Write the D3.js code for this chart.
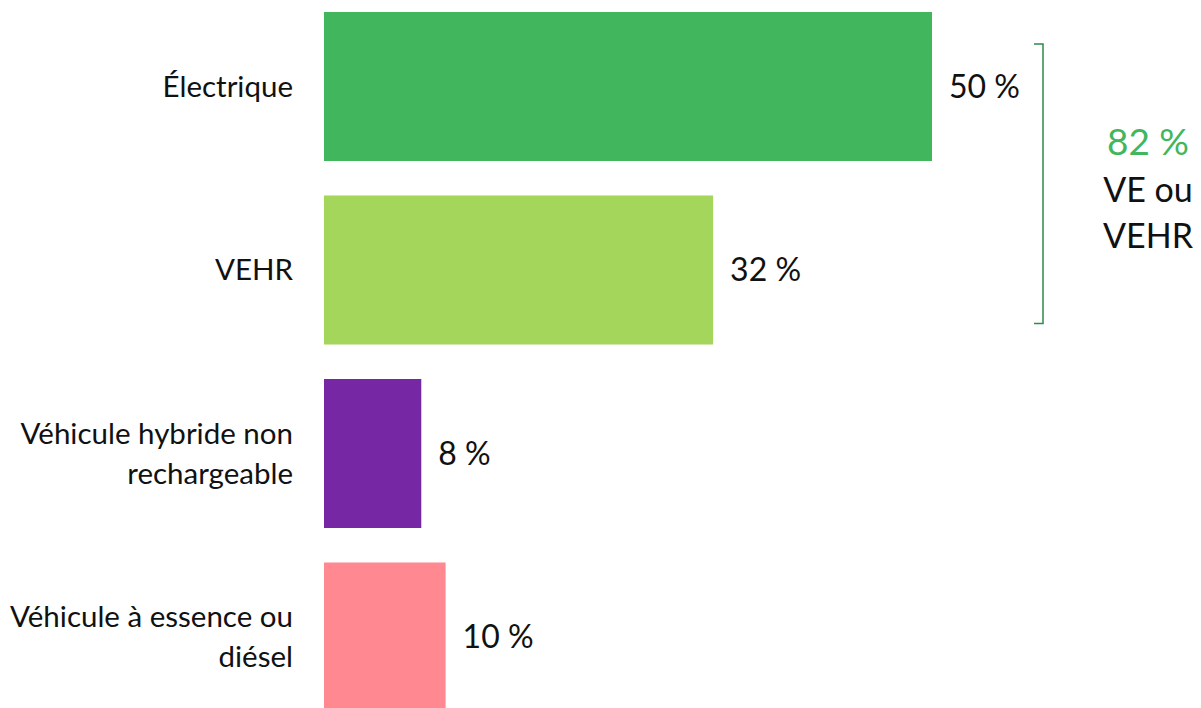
<!DOCTYPE html>
<html><head><meta charset="utf-8">
<script src="https://cdn.jsdelivr.net/npm/d3@7"></script>
<style>body{margin:0;background:#fff;} text{font-family:"Lato","Open Sans",sans-serif;}</style>
</head><body>
<svg id="c" width="1201" height="708"></svg>
<script>
const categories = [["Électrique"], ["VEHR"], ["Véhicule hybride non", "rechargeable"], ["Véhicule à essence ou", "diésel"]];
const keys = ["elec", "vehr", "hyb", "ess"];
const values = [50, 32, 8, 10];
const colors = ["#42b65c", "#a3d65b", "#7627a4", "#ff8891"];
const groupTotal = 82;
const groupLabel = ["VE ou", "VEHR"];

const svg = d3.select("#c");
const x = d3.scaleLinear().domain([0, 50]).range([324, 932]);
const y = d3.scaleBand().domain(keys).range([12, 12 + 3 * 183.5 + 149]).paddingInner(34.5 / 183.5).paddingOuter(0);

svg.selectAll("rect.bar").data(values).join("rect")
  .attr("x", x(0)).attr("y", (d, i) => y(keys[i]))
  .attr("width", d => x(d) - x(0)).attr("height", y.bandwidth())
  .attr("fill", (d, i) => colors[i]);

svg.selectAll("text.val").data(values).join("text")
  .attr("x", d => x(d) + 17).attr("y", (d, i) => y(keys[i]) + y.bandwidth() / 2)
  .attr("dy", "0.35em").attr("font-size", 32).attr("fill", "#111")
  .text(d => d + " %");

categories.forEach((lines, i) => {
  const cy = y(keys[i]) + y.bandwidth() / 2;
  const lh = 40;
  const t = svg.append("text").attr("text-anchor", "end").attr("font-size", 29.5).attr("fill", "#111");
  lines.forEach((l, j) => {
    t.append("tspan").attr("x", 293)
      .attr("y", cy + (j - (lines.length - 1) / 2) * lh).attr("dy", "0.35em").text(l);
  });
});

// bracket
const bx = 1043, by0 = y("elec") + 32, by1 = y("vehr") + y.bandwidth() - 21;
svg.append("path").attr("d", `M${bx - 9},${by0}H${bx}V${by1}H${bx - 9}`)
  .attr("fill", "none").attr("stroke", "#2e8b4a").attr("stroke-width", 1.5);

const cx = 1148;
svg.append("text").attr("x", cx).attr("y", 142).attr("dy", "0.35em").attr("text-anchor", "middle")
  .attr("font-size", 37).attr("fill", "#42b65c").text(groupTotal + " %");
groupLabel.forEach((l, j) => {
  svg.append("text").attr("x", cx).attr("y", 190 + j * 46).attr("dy", "0.35em").attr("text-anchor", "middle")
    .attr("font-size", 34).attr("fill", "#111").text(l);
});
</script>
</body></html>
